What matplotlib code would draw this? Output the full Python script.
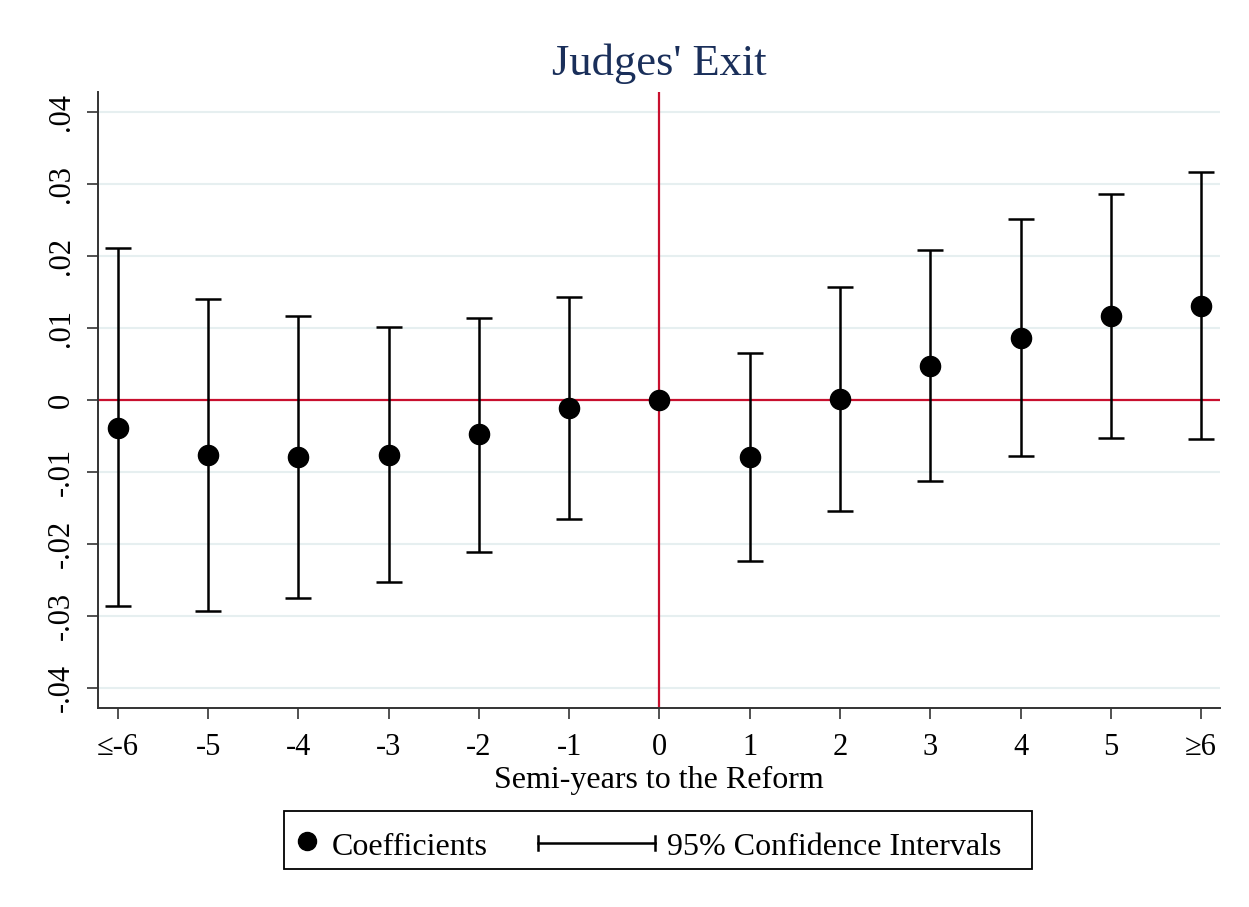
import matplotlib
matplotlib.use("Agg")
import matplotlib.pyplot as plt
from matplotlib.lines import Line2D
from matplotlib.patches import Rectangle
import numpy as np

plt.rcParams['font.family'] = ['Liberation Serif', 'DejaVu Serif']

tick_labels = ['≤-6', '-5', '-4', '-3', '-2', '-1', '0', '1', '2', '3', '4', '5', '≥6']
positions = [-6, -5, -4, -3, -2, -1, 0, 1, 2, 3, 4, 5, 6]
coef = [-0.0039, -0.0076, -0.0079, -0.0076, -0.0047, -0.0011, 0.0, -0.0079, 0.0001, 0.0047, 0.0086, 0.0117, 0.0131]
ci_low = [-0.0286, -0.0293, -0.0275, -0.0253, -0.0211, -0.0165, np.nan, -0.0224, -0.0154, -0.0113, -0.0078, -0.0053, -0.0054]
ci_high = [0.0211, 0.0140, 0.0117, 0.0101, 0.0114, 0.0143, np.nan, 0.0065, 0.0157, 0.0208, 0.0251, 0.0286, 0.0317]
y_ticks = [-0.04, -0.03, -0.02, -0.01, 0, 0.01, 0.02, 0.03, 0.04]
y_tick_labels = ['-.04', '-.03', '-.02', '-.01', '0', '.01', '.02', '.03', '.04']
legend_labels = ['Coefficients', '95% Confidence Intervals']

W, H = 1249, 907
fig = plt.figure(figsize=(W / 100, H / 100), dpi=100)
ax = fig.add_axes([0.0785, 0.2194, 0.8983, 0.6792])

red = '#c8102e'
for y in y_ticks:
    if y != 0:
        ax.axhline(y, color='#e6eff0', lw=1.5, zorder=0)
ax.axhline(0, color=red, lw=1.6, zorder=1)
ax.axvline(0, color=red, lw=1.6, zorder=1)

pos = np.array(positions, dtype=float)
lo = np.array(ci_low); hi = np.array(ci_high)
mask = ~np.isnan(lo)
mid = (lo + hi) / 2
ax.errorbar(pos[mask], mid[mask], yerr=[mid[mask] - lo[mask], hi[mask] - mid[mask]],
            fmt='none', ecolor='black', elinewidth=1.8, capsize=9.5, capthick=1.8, zorder=2)
ax.plot(pos, coef, 'o', color='black', markersize=14.5, zorder=3)

ax.set_xlim(-6.22, 6.21)
ax.set_ylim(-0.0428, 0.0428)
ax.set_xticks(positions)
ax.set_xticklabels(tick_labels, fontsize=22)
ax.set_yticks(y_ticks)
ax.set_yticklabels(y_tick_labels, fontsize=22, rotation=90, va='center')
ax.tick_params(axis='both', direction='out', length=8, width=1.2, color='#333333')
ax.tick_params(axis='y', pad=8)
ax.tick_params(axis='x', pad=10)
for s in ['top', 'right']:
    ax.spines[s].set_visible(False)
for s in ['left', 'bottom']:
    ax.spines[s].set_color('#333333')
    ax.spines[s].set_linewidth(1.4)

ax.set_xlabel('Semi-years to the Reform', fontsize=23, labelpad=3)
ax.set_title("Judges' Exit", fontsize=32, color='#1a2f5a', pad=12)

# legend drawn in figure pixel coordinates
def fx(p): return p / W
def fy(p): return 1 - p / H
fig.patches.append(Rectangle((fx(284), fy(869)), fx(1032) - fx(284), fy(811) - fy(869),
                             transform=fig.transFigure, fill=False, edgecolor='black', lw=1.3))
fig.add_artist(Line2D([fx(307)], [fy(841)], marker='o', color='black', markersize=13,
                      linestyle='none', transform=fig.transFigure))
fig.add_artist(Line2D([fx(538), fx(655)], [fy(843), fy(843)], color='black', lw=1.8,
                      transform=fig.transFigure))
for xc in (538, 655):
    fig.add_artist(Line2D([fx(xc), fx(xc)], [fy(836), fy(850)], color='black', lw=1.8,
                          transform=fig.transFigure))
fig.text(fx(332), fy(855), legend_labels[0], fontsize=23, va='baseline', ha='left')
fig.text(fx(667), fy(855), legend_labels[1], fontsize=23, va='baseline', ha='left')

fig.savefig('out.png', dpi=100, facecolor='white')
